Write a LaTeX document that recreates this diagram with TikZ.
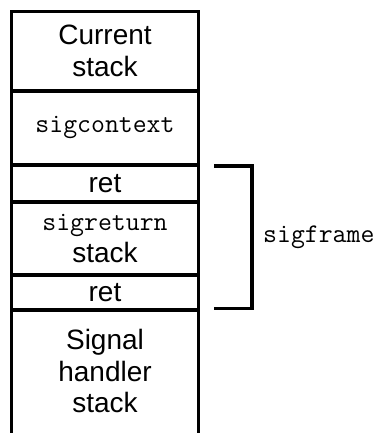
\documentclass[tikz,border=0pt]{standalone}
\usepackage{fontspec}
\setmainfont{Liberation Sans}
\usetikzlibrary{positioning,calc}

\tikzset{
    stackbox/.style={minimum width=187pt, inner sep=0pt, outer sep=0pt,
        align=center, font=\fontsize{28}{31.5}\selectfont},
    wall/.style={line width=3.5pt},
    brace/.style={line width=3.5pt},
}
\newcommand{\code}[1]{{\ttfamily\fontsize{27}{31.5}\selectfont #1}}

\begin{document}
\begin{tikzpicture}[x=1pt,y=1pt]
    \useasboundingbox (0,0) rectangle (378,433);

    % Stack slots, top to bottom
    \node[stackbox, minimum height=79.5pt, anchor=north west] (cur) at (11.5,421.7) {Current\\stack};
    \node[stackbox, minimum height=74pt, below=0pt of cur] (ctx) {\code{sigcontext}};
    \node[stackbox, minimum height=37pt, below=0pt of ctx] (retA) {ret};
    \node[stackbox, minimum height=73pt, below=0pt of retA] (sret) {\code{sigreturn}\\stack};
    \node[stackbox, minimum height=35pt, below=0pt of sret] (retB) {ret};
    \node[stackbox, minimum height=123.2pt, below=0pt of retB] (hnd) {Signal\\handler\\stack};

    % Outer walls and slot borders
    \draw[wall] (hnd.south west) -- (cur.north west) -- (cur.north east) -- (hnd.south east);
    \foreach \n in {cur,ctx,retA,sret,retB} {
        \draw[wall] (\n.south west) -- (\n.south east);
    }

    % Bracket over the sigframe
    \coordinate (bt) at ([xshift=15.5pt,yshift=-1.3pt]retA.north east);
    \coordinate (bb) at ([xshift=15.5pt,yshift=1.3pt]retB.south east);
    \draw[brace] (bt) -| ([xshift=38pt]bt |- bb) coordinate (bbr) -- (bb);
    \node[anchor=west, inner sep=0pt] (frame) at ($(bbr)!0.5!(bbr |- bt) + (11,0)$) {\code{sigframe}};
\end{tikzpicture}
\end{document}
